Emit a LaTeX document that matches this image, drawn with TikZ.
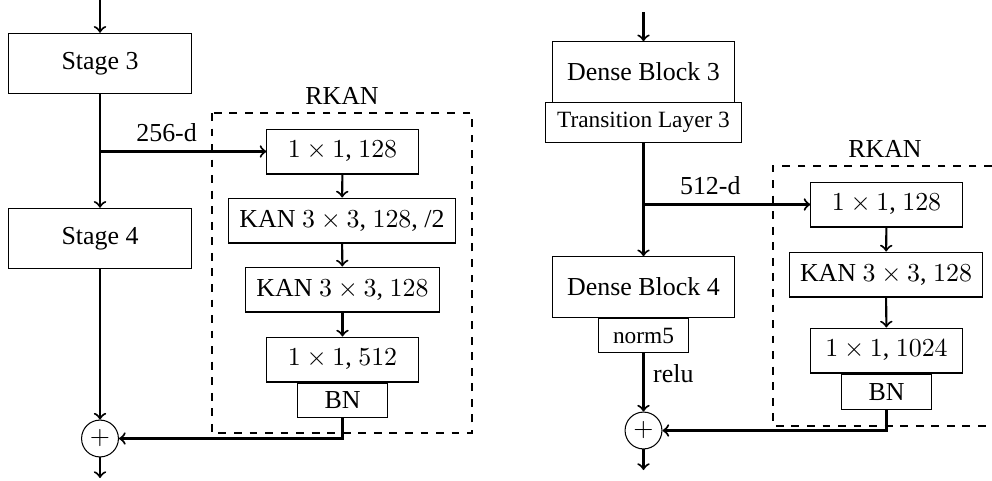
\documentclass[tikz,border=0pt]{standalone}
\usepackage[no-math]{fontspec}
\setmainfont{Liberation Serif}
\usepackage{tikz}

\begin{document}
\begin{tikzpicture}[x=0.01357cm,y=-0.01357cm]
% Block styles
\tikzset{
    blk/.style={draw, thin, minimum width=2.47cm, minimum height=0.82cm},
    lyr/.style={draw, thin, minimum height=0.61cm, inner sep=1pt},
    sub/.style={draw, thin, minimum width=1.23cm, minimum height=0.47cm, inner sep=1pt},
    add/.style={draw, thin, circle, minimum size=0.5cm, inner sep=0pt},
    flow/.style={->, thick}
}
\useasboundingbox (0,0) rectangle (992,480);
% Left: ResNet stages
\node[blk] (s3) at (100,63.5){Stage 3};
\node[blk] (s4) at (100,238.5){Stage 4};
\node[add] (p1) at (100,438.5){$+$};
\coordinate (in1) at (100,0);
\coordinate (out1) at (100,478);
\coordinate (b1) at (100,151.5);
% Left: RKAN block
\draw[dashed] (212,113) rectangle (472,433);
\node (k1) at (342,96){RKAN};
\node[lyr, minimum width=2.05cm] (l1) at (342.5,151.5){$1\times1$, $128$};
\node[lyr, minimum width=3.09cm] (l2) at (342,220.5){KAN $3\times3$, $128$, /2};
\node[lyr, minimum width=2.62cm] (l3) at (342.5,289.5){KAN $3\times3$, $128$};
\node[lyr, minimum width=2.05cm] (l4) at (342.5,359.5){$1\times1$, $512$};
\node[sub] (lbn) at (342.5,400.5){BN};
\draw[flow] (in1) -- (s3);
\draw[flow] (s3) -- (s4);
\draw[flow] (b1) -- node[above,pos=0.4]{256-d} (l1);
\draw[flow] (l1) -- (l2);
\draw[flow] (l2) -- (l3);
\draw[flow] (l3) -- (l4);
\draw[flow] (s4) -- (p1);
\draw[flow] (lbn.south) |- (p1.east);
\draw[flow] (p1) -- (out1);
% Right: DenseNet blocks
\node[blk] (d3) at (643.5,72){Dense Block 3};
\node[draw, thin, minimum width=2.65cm, minimum height=0.53cm, inner sep=1pt, font=\small] (t3) at (643.5,122.5){Transition Layer 3};
\node[blk] (d4) at (643.5,287){Dense Block 4};
\node[sub, font=\small] (n5) at (643.5,335.5){norm5};
\node[add] (p2) at (643.5,430.5){$+$};
\coordinate (in2) at (643.5,12);
\coordinate (out2) at (643.5,470);
\coordinate (b2) at (643.5,204.5);
% Right: RKAN block
\draw[dashed] (992,166) -| (773,426) -- (992,426);
\node (k2) at (885,149){RKAN};
\node[lyr, minimum width=2.05cm] (r1) at (886.5,204.5){$1\times1$, $128$};
\node[lyr, minimum width=2.62cm] (r2) at (886,274.5){KAN $3\times3$, $128$};
\node[lyr, minimum width=2.05cm] (r3) at (886.5,350.5){$1\times1$, $1024$};
\node[sub] (rbn) at (886.5,392){BN};
\draw[flow] (in2) -- (d3);
\draw[flow] (t3) -- (d4);
\draw[flow] (b2) -- node[above,pos=0.4]{512-d} (r1);
\draw[flow] (r1) -- (r2);
\draw[flow] (r2) -- (r3);
\draw[flow] (n5) -- node[right,pos=0.35]{relu} (p2);
\draw[flow] (rbn.south) |- (p2.east);
\draw[flow] (p2) -- (out2);
\end{tikzpicture}
\end{document}
